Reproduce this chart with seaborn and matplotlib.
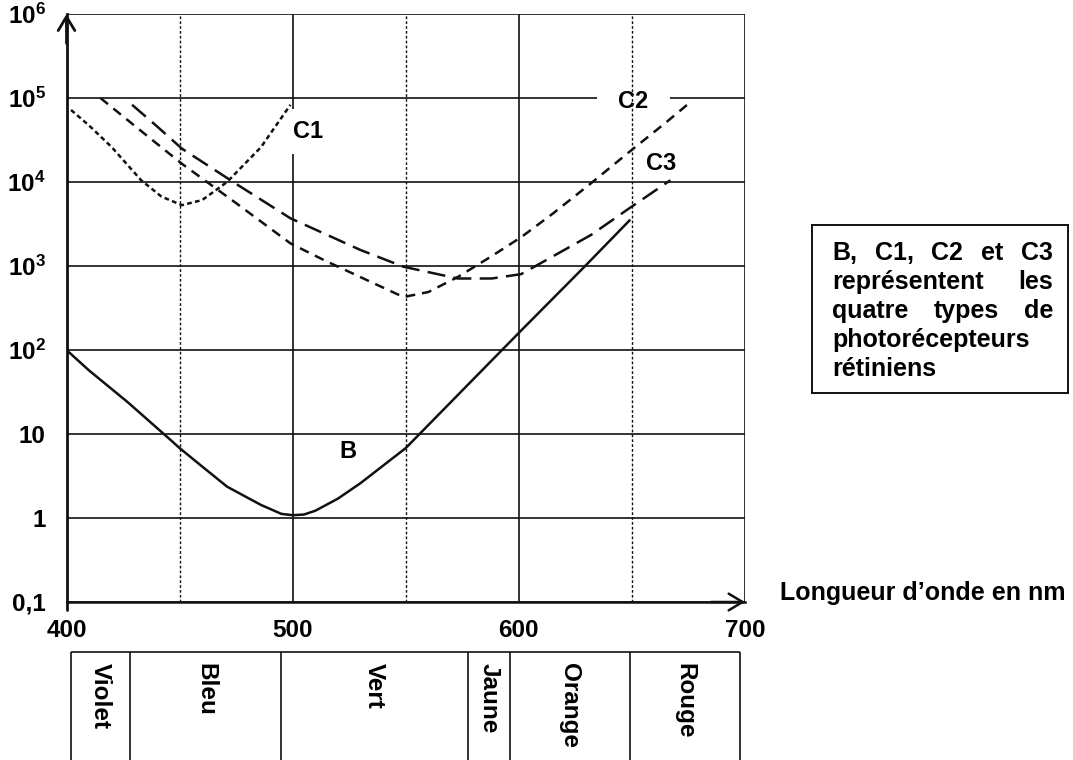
import pandas as pd
import seaborn as sns
import matplotlib.pyplot as plt

# Sensibilité des photorécepteurs (seuil, échelle log) en fonction de la longueur d'onde
wl_B = [400, 410, 427, 446, 450, 460, 471, 486, 495, 500, 505, 510, 520, 530, 550, 575, 600, 629, 649]
val_B = [100, 57, 24, 8.5, 6.8, 4.1, 2.36, 1.43, 1.12, 1.08, 1.1, 1.22, 1.7, 2.6, 6.8, 33, 160, 980, 3500]

wl_C1 = [402, 410, 420, 433, 442, 451, 460, 471, 486, 499]
val_C1 = [7.2e4, 4.7e4, 2.6e4, 1.05e4, 6.7e3, 5.3e3, 6.1e3, 1.0e4, 2.6e4, 8.3e4]

wl_C2 = [415, 430, 451, 475, 499, 514, 536, 549, 560, 573, 587, 601, 615, 632, 649, 665, 676]
val_C2 = [1.0e5, 4.7e4, 1.65e4, 5.6e3, 1.86e3, 1.17e3, 620, 427, 490, 740, 1.26e3, 2.2e3,
          4.2e3, 9.7e3, 2.3e4, 5.1e4, 9.0e4]

wl_C3 = [429, 440, 451, 475, 499, 530, 549, 573, 588, 601, 615, 632, 649, 667]
val_C3 = [8.3e4, 4.6e4, 2.5e4, 9.5e3, 3.7e3, 1.55e3, 980, 710, 710, 800, 1.3e3, 2.35e3, 4.9e3, 1.05e4]

y_ticks = [0.1, 1, 10, 1e2, 1e3, 1e4, 1e5, 1e6]
y_labels = ['0,1', '1', '10', '$10^{2}$', '$10^{3}$', '$10^{4}$', '$10^{5}$', '$10^{6}$']
x_ticks = [400, 500, 600, 700]
solid_lines = [500, 600, 700]
dotted_lines = [450, 550, 650]

# bandes de couleurs sous l'axe
band_edges = [402, 428, 495, 577.6, 596, 649, 698]
band_names = ['Violet', 'Bleu', 'Vert', 'Jaune', 'Orange', 'Rouge']

legend_lines = ['B, C1, C2 et C3', 'représentent les', 'quatre types de',
                'photorécepteurs', 'rétiniens']

sns.set_theme(style='white')
plt.rcParams['font.family'] = ['Liberation Sans', 'DejaVu Sans']
plt.rcParams['font.weight'] = 'bold'
plt.rcParams['text.color'] = 'black'
plt.rcParams['mathtext.fontset'] = 'custom'
plt.rcParams['mathtext.rm'] = 'Liberation Sans:bold'
plt.rcParams['mathtext.bf'] = 'Liberation Sans:bold'
plt.rcParams['mathtext.it'] = 'Liberation Sans:bold'
plt.rcParams['lines.scale_dashes'] = False

W, H = 1073, 760
fig = plt.figure(figsize=(W / 100, H / 100), dpi=100)
ax = fig.add_axes([66.5 / W, 1 - 602 / H, 678.5 / W, 588 / H])

ink = '#111111'
grid_lw = 1.2

# grille
for x in solid_lines:
    ax.axvline(x, color=ink, lw=grid_lw, zorder=1)
for x in dotted_lines:
    ax.axvline(x, color=ink, lw=1.0, ls=(0, (2, 1.5)), zorder=3)

sns.lineplot(x=wl_B, y=val_B, ax=ax, color=ink, lw=1.8, zorder=4)
sns.lineplot(x=wl_C1, y=val_C1, ax=ax, color=ink, lw=1.8, ls=(0, (3.4, 2.4)), zorder=4)
sns.lineplot(x=wl_C2, y=val_C2, ax=ax, color=ink, lw=1.8, ls=(0, (7, 5)), zorder=4)
sns.lineplot(x=wl_C3, y=val_C3, ax=ax, color=ink, lw=1.8, ls=(0, (13, 6)), zorder=4)

ax.set_yscale('log')
ax.set_xlim(400, 700)
ax.set_ylim(0.1, 1e6)
ax.set_yticks(y_ticks)
ax.set_yticklabels(y_labels)
ax.minorticks_off()
ax.set_xticks(x_ticks)
ax.set_xticklabels([str(v) for v in x_ticks])
ax.set_xlabel('')
ax.set_ylabel('')
ax.grid(axis='y', color=ink, lw=grid_lw, zorder=0.5)
ax.set_axisbelow(True)
ax.tick_params(axis='y', length=6, width=grid_lw, color=ink, pad=9, labelsize=17.5, labelcolor='black')
ax.tick_params(axis='x', length=0, pad=12, labelsize=17.5, labelcolor='black')
sns.despine(ax=ax)
ax.spines['left'].set_linewidth(2.0)
ax.spines['bottom'].set_linewidth(1.8)
ax.spines['left'].set_color(ink)
ax.spines['bottom'].set_color(ink)
ax.patch.set_alpha(0)

# flèches des axes
ax.annotate('', xy=(0, 1.0), xytext=(0, 0.95), xycoords='axes fraction',
            arrowprops=dict(arrowstyle='->,head_length=0.5,head_width=0.3', lw=2.0,
                            color=ink, mutation_scale=20, shrinkA=0, shrinkB=0))
ax.annotate('', xy=(1.0, 0), xytext=(0.95, 0), xycoords='axes fraction',
            arrowprops=dict(arrowstyle='->,head_length=0.5,head_width=0.3', lw=1.8,
                            color=ink, mutation_scale=20, shrinkA=0, shrinkB=0))
ax.plot([0, 0], [-0.014, 0], transform=ax.transAxes, color=ink, lw=2.0, clip_on=False)

# étiquettes des courbes
ax.text(506.7, 10 ** 4.60, 'C1', fontsize=17, ha='center', va='center', zorder=2,
        bbox=dict(boxstyle='square,pad=0.45', fc='white', ec='none'))
ax.text(650.7, 10 ** 4.955, 'C2', fontsize=17, ha='center', va='center', zorder=2,
        bbox=dict(boxstyle='square,pad=0.9', fc='white', ec='none'))
ax.text(663, 10 ** 4.222, 'C3', fontsize=17, ha='center', va='center', zorder=5)
ax.text(524.4, 10 ** 0.79, 'B', fontsize=17, ha='center', va='center', zorder=5)

fig.text(780 / W, 1 - 593 / H, 'Longueur d\u2019onde en nm', fontsize=18,
         ha='left', va='center')

# bandes de couleurs
band = fig.add_axes([66.5 / W, 0, 678.5 / W, (H - 652) / H])
band.set_xlim(400, 700)
band.set_ylim(0, 1)
band.axis('off')
band.hlines(1, band_edges[0], band_edges[-1], color=ink, lw=1.2, clip_on=False)
band.vlines(band_edges, 0, 1, color=ink, lw=1.2, clip_on=False)
for lo, hi, name in zip(band_edges[:-1], band_edges[1:], band_names):
    band.text((lo + hi) / 2, 1 - 11 / 108, name, rotation=270, fontsize=17.5,
              ha='center', va='top')

# encadré
box = fig.add_axes([812 / W, 1 - 393 / H, 256 / W, 168 / H])
box.set_xticks([])
box.set_yticks([])
for s in box.spines.values():
    s.set_visible(True)
    s.set_color(ink)
    s.set_linewidth(1.4)

fig.canvas.draw()
renderer = fig.canvas.get_renderer()
box_w = box.get_window_extent(renderer).width
x0, x1 = 20 / 256, 241 / 256
for i, line in enumerate(legend_lines):
    yb = 1 - (260 + 29 * i - 225) / 168
    words = line.split()
    texts = [box.text(0, yb, w, fontsize=18, ha='left', va='baseline',
                      transform=box.transAxes) for w in words]
    widths = [t.get_window_extent(renderer).width / box_w for t in texts]
    if len(words) > 1:
        gap = (x1 - x0 - sum(widths)) / (len(words) - 1)
    else:
        gap = 0
    xpos = x0
    for t, w in zip(texts, widths):
        t.set_x(xpos)
        xpos += w + gap

fig.savefig('out.png', dpi=100)
